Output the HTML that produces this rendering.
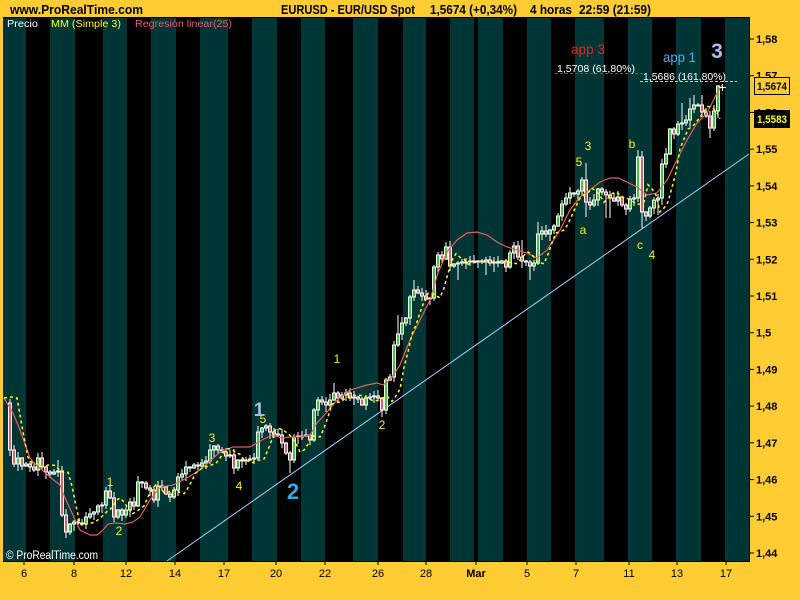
<!DOCTYPE html>
<html><head><meta charset="utf-8">
<style>
html,body{margin:0;padding:0;background:#FFCC33;width:800px;height:600px;overflow:hidden;}
svg{display:block;}
text{font-family:"Liberation Sans",Arial,sans-serif;}
</style></head><body>
<svg id="s" width="800" height="600" viewBox="0 0 800 600" xmlns="http://www.w3.org/2000/svg">
<rect width="800" height="600" fill="#FFCC33"/>
<!-- header -->
<text x="10" y="14" font-size="13" font-weight="bold" fill="#000" textLength="133" lengthAdjust="spacingAndGlyphs">www.ProRealTime.com</text>
<text x="281" y="14" font-size="12.5" font-weight="bold" fill="#000" textLength="134" lengthAdjust="spacingAndGlyphs">EURUSD - EUR/USD Spot</text>
<text x="430" y="14" font-size="12.5" font-weight="bold" fill="#000" textLength="87" lengthAdjust="spacingAndGlyphs">1,5674 (+0,34%)</text>
<text x="530" y="14" font-size="12.5" font-weight="bold" fill="#000" textLength="42" lengthAdjust="spacingAndGlyphs">4 horas</text>
<text x="579" y="14" font-size="12.5" font-weight="bold" fill="#000" textLength="72" lengthAdjust="spacingAndGlyphs">22:59 (21:59)</text>

<!-- chart area -->
<rect x="3" y="18" width="747" height="543" fill="#000"/>
<g fill="#003535">
<rect x="3" y="18" width="23" height="543"/>
<rect x="50" y="18" width="25" height="543"/>
<rect x="103" y="18" width="24" height="543"/>
<rect x="151" y="18" width="25" height="543"/>
<rect x="200" y="18" width="28" height="543"/>
<rect x="252" y="18" width="25" height="543"/>
<rect x="301" y="18" width="24" height="543"/>
<rect x="353" y="18" width="25" height="543"/>
<rect x="403" y="18" width="23" height="543"/>
<rect x="450" y="18" width="24" height="543"/>
<rect x="478" y="18" width="25" height="543"/>
<rect x="527" y="18" width="24" height="543"/>
<rect x="575" y="18" width="29" height="543"/>
<rect x="628" y="18" width="24" height="543"/>
<rect x="676" y="18" width="25" height="543"/>
<rect x="725" y="18" width="25" height="543"/>
</g>
<rect x="3" y="17" width="747" height="1" fill="#000"/>
<rect x="3" y="561" width="747" height="1" fill="#000"/>
<rect x="749" y="18" width="1" height="543" fill="#000"/>

<!-- legend -->
<text x="7" y="27" font-size="10" fill="#fff" textLength="31" lengthAdjust="spacingAndGlyphs">Precio</text>
<text x="51" y="27" font-size="10" fill="#FFFF00" textLength="70" lengthAdjust="spacingAndGlyphs">MM (Simple 3)</text>
<text x="135" y="27" font-size="10" fill="#E06060" textLength="97" lengthAdjust="spacingAndGlyphs">Regresión linear(25)</text>

<!-- trend line -->
<line x1="167" y1="561" x2="749" y2="154" stroke="#AACCFF" stroke-width="1"/>

<!-- fib lines -->
<line x1="555" y1="73.5" x2="645" y2="73.5" stroke="#DD2222" stroke-width="1" stroke-dasharray="3,2"/>
<line x1="640" y1="81.5" x2="737" y2="81.5" stroke="#99EE99" stroke-width="1" stroke-dasharray="3,2"/>
<text x="557" y="72" font-size="10" fill="#fff" textLength="78" lengthAdjust="spacingAndGlyphs">1,5708 (61,80%)</text>
<text x="643" y="80" font-size="10" fill="#fff" textLength="83" lengthAdjust="spacingAndGlyphs">1,5686 (161,80%)</text>

<g id="cd"></g>
<polyline id="red" fill="none" stroke="#E06060" stroke-width="1.2" points="4,398 13,413 20,430 25,444 30,458 36,465 42,470 50,477 60,485 65,498 72,513 80,530 90,535 97,535 103,530 108,524 115,523 125,524 133,522 140,517 150,500 160,487 173,485 187,478 200,470 220,452 233,447 250,447 262,440 272,435 282,438 290,437 300,437 310,435 317,423 327,412 337,400 350,390 367,385 377,383 383,385 390,380 400,365 410,340 420,320 430,300 438,273 447,252 457,240 467,233 477,232 487,235 497,242 507,247 517,250 527,253 537,258 547,250 560,230 570,210 580,197 590,190 600,182 610,178 618,178 627,182 637,187 647,195 657,193 667,180 677,160 687,140 697,123 707,113 717,93 722,85"/>
<polyline id="yel" fill="none" stroke="#FFFF00" stroke-width="1.5" stroke-dasharray="3,3" points=""/>
<path d="M719 87.5 h7 M722.5 84 v7" stroke="#fff" stroke-width="1"/>

<!-- annotations -->
<g font-size="12" fill="#F8F020" text-anchor="middle">
<text x="110" y="486">1</text>
<text x="119" y="535">2</text>
<text x="212" y="442">3</text>
<text x="239" y="490">4</text>
<text x="263" y="423">5</text>
<text x="337" y="363">1</text>
<text x="382" y="429">2</text>
<text x="579" y="166">5</text>
<text x="588" y="150">3</text>
<text x="632" y="148">b</text>
<text x="583" y="234">a</text>
<text x="640" y="249">c</text>
<text x="652" y="259">4</text>
</g>
<text x="259" y="416" font-size="19" font-weight="bold" fill="#AABBEE" text-anchor="middle">1</text>
<text x="293" y="499" font-size="22" font-weight="bold" fill="#33AADD" text-anchor="middle">2</text>
<text x="571" y="54" font-size="14" fill="#EE2222" textLength="34" lengthAdjust="spacingAndGlyphs">app 3</text>
<text x="663" y="62" font-size="14" fill="#55AAEE" textLength="33" lengthAdjust="spacingAndGlyphs">app 1</text>
<text x="717" y="58" font-size="21" font-weight="bold" fill="#AABBEE" text-anchor="middle">3</text>

<text x="6" y="559" font-size="11.5" fill="#fff" textLength="92" lengthAdjust="spacingAndGlyphs">© ProRealTime.com</text>

<!-- y axis -->
<g stroke="#000" stroke-width="1">
<line x1="750" y1="39" x2="754" y2="39"/>
<line x1="750" y1="75.7" x2="754" y2="75.7"/>
<line x1="750" y1="112.4" x2="754" y2="112.4"/>
<line x1="750" y1="149.1" x2="754" y2="149.1"/>
<line x1="750" y1="185.9" x2="754" y2="185.9"/>
<line x1="750" y1="222.6" x2="754" y2="222.6"/>
<line x1="750" y1="259.3" x2="754" y2="259.3"/>
<line x1="750" y1="296" x2="754" y2="296"/>
<line x1="750" y1="332.7" x2="754" y2="332.7"/>
<line x1="750" y1="369.4" x2="754" y2="369.4"/>
<line x1="750" y1="406.1" x2="754" y2="406.1"/>
<line x1="750" y1="442.8" x2="754" y2="442.8"/>
<line x1="750" y1="479.6" x2="754" y2="479.6"/>
<line x1="750" y1="516.3" x2="754" y2="516.3"/>
<line x1="750" y1="553" x2="754" y2="553"/>
</g>
<g font-size="11" font-weight="bold" fill="#000">
<text x="756" y="43">1,58</text>
<text x="756" y="79.7">1,57</text>
<text x="756" y="116.4">1,56</text>
<text x="756" y="153.1">1,55</text>
<text x="756" y="189.9">1,54</text>
<text x="756" y="226.6">1,53</text>
<text x="756" y="263.3">1,52</text>
<text x="756" y="300">1,51</text>
<text x="756" y="336.7">1,5</text>
<text x="756" y="373.4">1,49</text>
<text x="756" y="410.1">1,48</text>
<text x="756" y="446.8">1,47</text>
<text x="756" y="483.6">1,46</text>
<text x="756" y="520.3">1,45</text>
<text x="756" y="557">1,44</text>
</g>
<rect x="754.5" y="77.5" width="35" height="17" fill="#FFCC33" stroke="#000" stroke-width="1"/>
<text x="757" y="90" font-size="11" font-weight="bold" fill="#000" textLength="30" lengthAdjust="spacingAndGlyphs">1,5674</text>
<rect x="754" y="110" width="36" height="18" fill="#000"/>
<text x="757" y="123" font-size="11" font-weight="bold" fill="#FFFF00" textLength="30" lengthAdjust="spacingAndGlyphs">1,5583</text>

<!-- x axis -->
<g stroke="#000" stroke-width="1">
<line x1="24" y1="561" x2="24" y2="565"/>
<line x1="74" y1="561" x2="74" y2="565"/>
<line x1="126" y1="561" x2="126" y2="565"/>
<line x1="175" y1="561" x2="175" y2="565"/>
<line x1="224" y1="561" x2="224" y2="565"/>
<line x1="276" y1="561" x2="276" y2="565"/>
<line x1="325" y1="561" x2="325" y2="565"/>
<line x1="378" y1="561" x2="378" y2="565"/>
<line x1="426" y1="561" x2="426" y2="565"/>
<line x1="476" y1="561" x2="476" y2="565"/>
<line x1="527" y1="561" x2="527" y2="565"/>
<line x1="576" y1="561" x2="576" y2="565"/>
<line x1="629" y1="561" x2="629" y2="565"/>
<line x1="677" y1="561" x2="677" y2="565"/>
<line x1="726" y1="561" x2="726" y2="565"/>
</g>
<g font-size="11" fill="#000" text-anchor="middle">
<text x="24" y="577">6</text>
<text x="74" y="577">8</text>
<text x="126" y="577">12</text>
<text x="175" y="577">14</text>
<text x="224" y="577">17</text>
<text x="276" y="577">20</text>
<text x="325" y="577">22</text>
<text x="378" y="577">26</text>
<text x="426" y="577">28</text>
<text x="476" y="577" font-weight="bold">Mar</text>
<text x="527" y="577">5</text>
<text x="576" y="577">7</text>
<text x="629" y="577">11</text>
<text x="677" y="577">13</text>
<text x="726" y="577">17</text>
</g>
</svg>
<script>
(function(){
var C=[450,464,458,466,464,467,470,458,467,472,
474,472,471,515,532,524,522,523,524,517,
514,512,506,505,491,498,517,510,515,510,
502,506,482,483,488,490,500,486,487,494,
497,490,477,474,467,468,465,466,463,461,
450,446,450,452,456,455,468,460,461,460,
459,458,432,428,426,432,434,435,443,453,
460,437,436,436,435,440,410,400,402,405,
400,393,398,395,393,398,397,399,405,398,
397,396,398,410,380,377,345,334,323,318,
297,290,293,296,299,298,267,255,259,247,
266,264,263,262,262,261,262,261,262,260,
263,262,263,261,267,253,246,257,261,262,
266,263,234,231,234,230,226,216,204,198,
193,194,191,180,202,205,200,189,192,195,
198,201,197,205,209,199,198,157,212,216,
208,200,198,164,154,129,134,124,123,120,
109,105,105,112,116,128,111,86];
var HI={586:163,638:150,398:315,414:280,58:460,334:383,682:103,690:98,694:95,702:95,522:240,538:222};
var LO={290:473,66:538,642:228,486:275,494:272,478:268,458:280,530:280,586:217,606:218,610:218,658:215,710:138};
var ns="http://www.w3.org/2000/svg";
var g=document.getElementById('cd');
function el(n,a){var e=document.createElementNS(ns,n);for(var k in a)e.setAttribute(k,a[k]);return e;}
var prev=403;
for(var i=0;i<C.length;i++){
 var x=10+4*i,o=prev,c=C[i];
 var top=Math.min(o,c),bot=Math.max(o,c);
 var hi=top-(1+((i*7+3)%6)), lo=bot+(1+((i*11+5)%7));
 if(HI[x]!==undefined)hi=HI[x];
 if(LO[x]!==undefined)lo=LO[x];
 g.appendChild(el('line',{x1:x,y1:hi,x2:x,y2:lo,stroke:'#fff','stroke-width':1}));
 var col=(c<o)?'#3CCB3C':(c>o?'#DD6464':'#fff');
 g.appendChild(el('rect',{x:x-1.5,y:top,width:3,height:Math.max(bot-top,1),fill:col,stroke:'#fff','stroke-width':1}));
 prev=c;
}
var E=[398,398,398].concat(C);
var pts=['4,398','12,397','17,398'];
for(var j=0;j<C.length;j++){
 var s=(E[j+1]+E[j+2]+E[j+3])/3;
 var px=10+4*j+10;
 if(px>722)break;
 pts.push(px+','+s.toFixed(1));
}
document.getElementById('yel').setAttribute('points',pts.join(' '));
})();
</script>
</body></html>
